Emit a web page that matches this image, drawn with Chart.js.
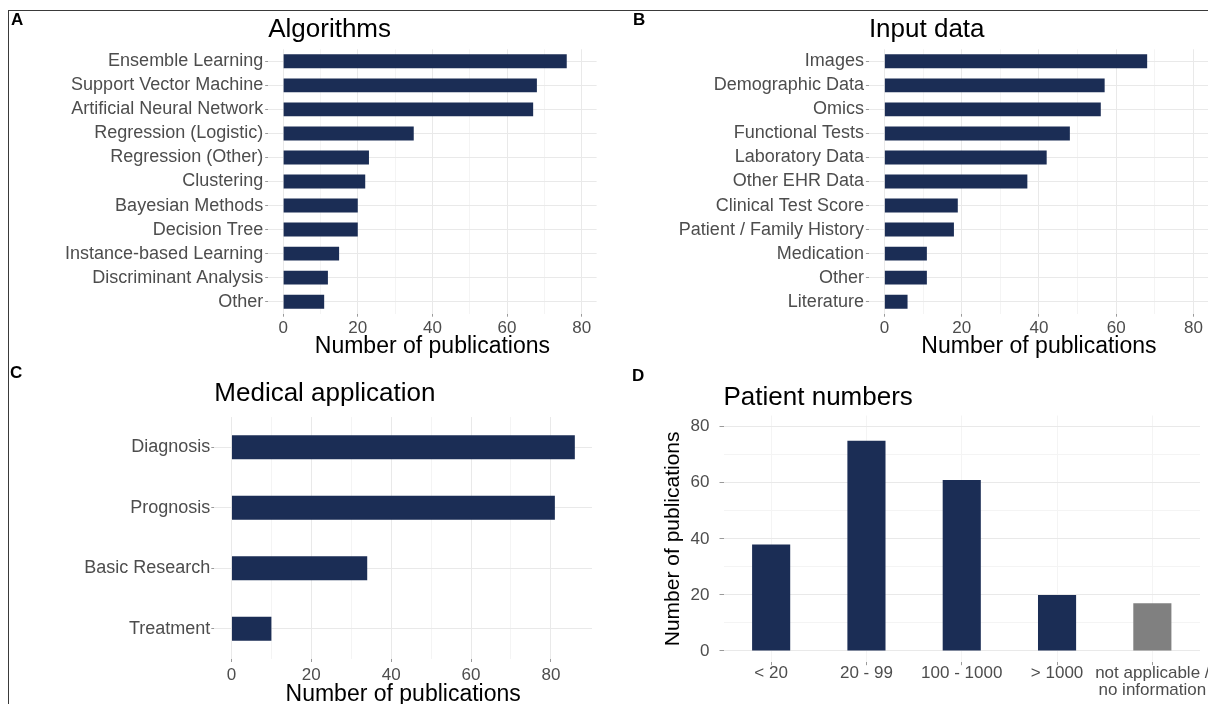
<!DOCTYPE html>
<html>
<head>
<meta charset="utf-8">
<title>Machine learning in medicine - publication counts</title>
<script src="https://cdn.jsdelivr.net/npm/chart.js@4.4.1/dist/chart.umd.min.js"></script>
<style>
  html, body { margin: 0; padding: 0; background: #fff; overflow: hidden; }
  body { width: 1208px; height: 704px; position: relative; font-family: "Liberation Sans", Arial, Helvetica, sans-serif; }
  .frame { position: absolute; left: 8px; top: 10px; width: 1210px; height: 700px;
           border-top: 1.5px solid #3a3a3a; border-left: 1.5px solid #3a3a3a; }
  canvas { position: absolute; }
  .letter { position: absolute; font-size: 17px; line-height: 17px; font-weight: bold; color: #000; }
</style>
</head>
<body>
<div class="frame"></div>

<canvas id="chartA" width="604" height="362" style="left:0px;top:0px"></canvas>
<canvas id="chartB" width="606" height="362" style="left:604px;top:0px"></canvas>
<canvas id="chartC" width="604" height="346" style="left:0px;top:362px"></canvas>
<canvas id="chartD" width="604" height="342" style="left:604px;top:362px"></canvas>

<div class="letter" style="left:11px;top:11px">A</div>
<div class="letter" style="left:633px;top:11px">B</div>
<div class="letter" style="left:10px;top:364px">C</div>
<div class="letter" style="left:632px;top:367px">D</div>

<script>
// values
const algoLabels = ['Ensemble Learning', 'Support Vector Machine', 'Artificial Neural Network',
  'Regression (Logistic)', 'Regression (Other)', 'Clustering', 'Bayesian Methods',
  'Decision Tree', 'Instance-based Learning', 'Discriminant Analysis', 'Other'];
const algoCounts = [76, 68, 67, 35, 23, 22, 20, 20, 15, 12, 11];

const inputLabels = ['Images', 'Demographic Data', 'Omics', 'Functional Tests', 'Laboratory Data',
  'Other EHR Data', 'Clinical Test Score', 'Patient / Family History', 'Medication', 'Other', 'Literature'];
const inputCounts = [68, 57, 56, 48, 42, 37, 19, 18, 11, 11, 6];

const applicationLabels = ['Diagnosis', 'Prognosis', 'Basic Research', 'Treatment'];
const applicationCounts = [86, 81, 34, 10];

const patientLabels = ['< 20', '20 - 99', '100 - 1000', '> 1000', ['not applicable /', 'no information']];
const patientCounts = [38, 75, 61, 20, 17];

// axis ticks (labelled) and the unlabelled minor grid in between
const countTicks = [0, 20, 40, 60, 80];
const minorTicks = [10, 30, 50, 70];

const NAVY = '#1b2d55';
const GREY_BAR = '#808080';
const GRID_MAJOR = '#e9e9e9';
const GRID_MINOR = '#f4f4f4';
const TICK_MARK = '#9a9a9a';
const TICK_TEXT = '#4d4d4d';
const FONT = '"Liberation Sans", Arial, Helvetica, sans-serif';

function useCountTicks(scale) {
  scale.ticks = countTicks.concat(minorTicks).sort((a, b) => a - b).map(v => ({ value: v }));
}
function isMajor(ctx) {
  return ctx.tick && countTicks.includes(ctx.tick.value);
}
function countGrid(tickLength) {
  return {
    color: ctx => isMajor(ctx) ? GRID_MAJOR : GRID_MINOR,
    tickColor: ctx => isMajor(ctx) ? TICK_MARK : 'rgba(0,0,0,0)',
    tickLength: tickLength
  };
}
function countLabel(v) {
  return countTicks.includes(v) ? String(v) : '';
}

function horizontalChart(id, labels, values, p) {
  return new Chart(document.getElementById(id), {
    type: 'bar',
    data: {
      labels: labels,
      datasets: [{ data: values, backgroundColor: NAVY, borderWidth: 0,
                   barPercentage: p.barPct, categoryPercentage: 1 }]
    },
    options: {
      indexAxis: 'y',
      responsive: false,
      animation: false,
      events: [],
      layout: { padding: { left: 0, right: p.padRight, top: 0, bottom: 0 } },
      plugins: {
        legend: { display: false },
        tooltip: { enabled: false },
        title: { display: true, text: p.title, align: 'start', fullSize: false, color: '#000',
                 font: { family: FONT, size: 26, weight: 'normal' },
                 padding: { top: p.titleTop, bottom: p.titleBottom } }
      },
      scales: {
        x: {
          type: 'linear', min: p.min, max: p.max,
          afterBuildTicks: useCountTicks,
          afterFit: s => { s.height = p.xHeight; s.paddingLeft = 0; s.paddingRight = 0; },
          grid: countGrid(3),
          border: { display: false },
          ticks: { autoSkip: false, maxRotation: 0, color: TICK_TEXT, padding: p.xPad,
                   font: { family: FONT, size: 17, lineHeight: 1 }, callback: countLabel },
          title: { display: true, text: 'Number of publications', color: '#000',
                   font: { family: FONT, size: 23 }, padding: { top: 0, bottom: p.xTitlePad } }
        },
        y: {
          afterFit: s => { s.width = p.yWidth; s.paddingTop = 0; s.paddingBottom = 0; },
          grid: { offset: false, color: GRID_MAJOR, tickColor: TICK_MARK, tickLength: 3 },
          border: { display: false },
          ticks: { autoSkip: false, color: TICK_TEXT, padding: p.yPad,
                   font: { family: FONT, size: 18, lineHeight: 1 } }
        }
      }
    }
  });
}

horizontalChart('chartA', algoLabels, algoCounts, {
  title: 'Algorithms', barPct: 0.58, min: -4, max: 84,
  padRight: 7.4, yWidth: 268.2, xHeight: 48.3,
  titleTop: 14.4, titleBottom: 3.7, xPad: 3, xTitlePad: 2, yPad: 2
});

horizontalChart('chartB', inputLabels, inputCounts, {
  title: 'Input data', barPct: 0.58, min: -4, max: 84,
  padRight: 1, yWidth: 264.9, xHeight: 48.3,
  titleTop: 14.4, titleBottom: 3.7, xPad: 3, xTitlePad: 2, yPad: 2
});

horizontalChart('chartC', applicationLabels, applicationCounts, {
  title: 'Medical application', barPct: 0.4, min: -4.3, max: 90.3,
  padRight: 12, yWidth: 214.3, xHeight: 49,
  titleTop: 16.4, titleBottom: 7.4, xPad: 4.5, xTitlePad: 0, yPad: 1
});

// patient numbers: vertical bars, last category in grey
new Chart(document.getElementById('chartD'), {
  type: 'bar',
  data: {
    labels: patientLabels,
    datasets: [{
      data: patientCounts,
      backgroundColor: ctx => ctx.index === patientLabels.length - 1 ? GREY_BAR : NAVY,
      borderWidth: 0, barPercentage: 0.4, categoryPercentage: 1
    }]
  },
  options: {
    responsive: false,
    animation: false,
    events: [],
    layout: { padding: { left: 50, right: 8, top: 0, bottom: 0 } },
    plugins: {
      legend: { display: false },
      tooltip: { enabled: false },
      title: { display: true, text: 'Patient numbers', align: 'start', fullSize: false, color: '#000',
               font: { family: FONT, size: 26, weight: 'normal' },
               padding: { top: 20.4, bottom: 1.9 } }
    },
    scales: {
      x: {
        afterFit: s => { s.height = 41.8; s.paddingLeft = 0; s.paddingRight = 0; },
        grid: { offset: false, color: GRID_MINOR, tickColor: TICK_MARK, tickLength: 3 },
        border: { display: false },
        ticks: { autoSkip: false, maxRotation: 0, color: TICK_TEXT, padding: 0,
                 font: { family: FONT, size: 17, lineHeight: 1 } }
      },
      y: {
        type: 'linear', min: -4, max: 84,
        afterBuildTicks: useCountTicks,
        afterFit: s => { s.width = 69.5; s.paddingTop = 0; s.paddingBottom = 0; },
        grid: countGrid(4),
        border: { display: false },
        ticks: { autoSkip: false, color: TICK_TEXT, padding: 10,
                 font: { family: FONT, size: 17, lineHeight: 1 }, callback: countLabel },
        title: { display: true, text: 'Number of publications', color: '#000',
                 font: { family: FONT, size: 21 }, padding: { top: 7, bottom: 0 } }
      }
    }
  }
});
</script>
</body>
</html>
